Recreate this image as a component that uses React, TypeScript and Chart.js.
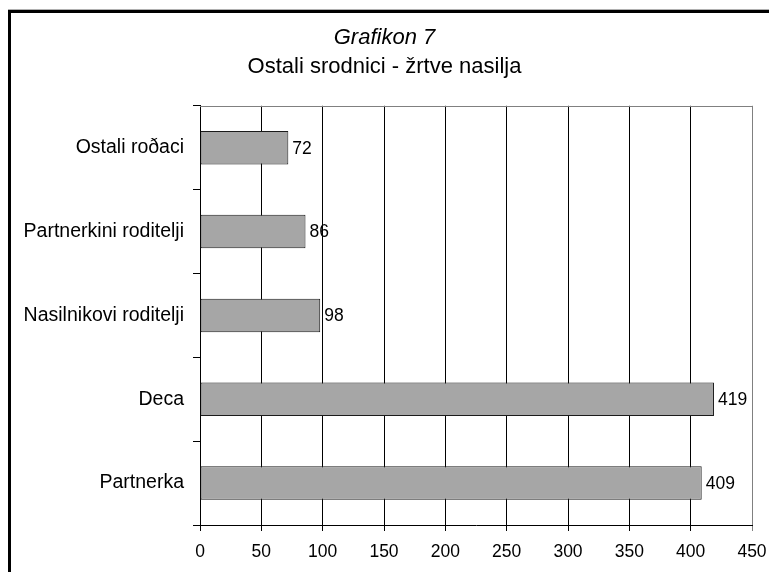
import React, { useEffect, useRef } from "react";
import { Chart, registerables } from "chart.js";

Chart.register(...registerables);

const categories = [
  "Ostali roðaci",
  "Partnerkini roditelji",
  "Nasilnikovi roditelji",
  "Deca",
  "Partnerka",
];
const values = [72, 86, 98, 419, 409];
const titleLine1 = "Grafikon 7";
const titleLine2 = "Ostali srodnici - žrtve nasilja";
const xMin = 0;
const xMax = 450;
const xStep = 50;

const FONT = "'Liberation Sans', Arial, sans-serif";
const PAD_LEFT = 17;

const framePlugin = {
  id: "frame",
  beforeDraw(chart: any) {
    const { ctx, width, height } = chart;
    ctx.save();
    ctx.fillStyle = "#ffffff";
    ctx.fillRect(0, 0, width, height);
    ctx.fillStyle = "#b0b0b0";
    ctx.fillRect(8, 9, width - 8, 1);
    ctx.fillStyle = "#000000";
    ctx.fillRect(8, 10, width - 8, 3);
    ctx.fillRect(8, 10, 3, height - 10);
    ctx.restore();
  },
  afterDraw(chart: any) {
    const { ctx, chartArea } = chart;
    ctx.save();
    ctx.strokeStyle = "#808080";
    ctx.lineWidth = 1;
    ctx.beginPath();
    ctx.moveTo(chartArea.left, Math.round(chartArea.top) + 0.5);
    ctx.lineTo(chartArea.right, Math.round(chartArea.top) + 0.5);
    ctx.stroke();
    ctx.restore();
  },
};

const valueLabelPlugin = {
  id: "valueLabels",
  afterDatasetsDraw(chart: any) {
    const { ctx } = chart;
    const meta = chart.getDatasetMeta(0);
    ctx.save();
    ctx.font = `17.5px ${FONT}`;
    ctx.fillStyle = "#000";
    ctx.textAlign = "left";
    ctx.textBaseline = "middle";
    meta.data.forEach((bar: any, i: number) => {
      const v = chart.data.datasets[0].data[i];
      ctx.fillText(String(v), bar.x + 4, bar.y + 1);
    });
    ctx.restore();
  },
};

export default function App() {
  const ref = useRef<HTMLCanvasElement>(null);
  useEffect(() => {
    if (!ref.current) return;
    const chart = new Chart(ref.current, {
      type: "bar",
      data: {
        labels: categories,
        datasets: [
          {
            data: values,
            backgroundColor: "#a6a6a6",
            borderColor: "#1a1a1a",
            borderWidth: 1,
            borderSkipped: false,
            barPercentage: 0.4,
            categoryPercentage: 1,
          },
        ],
      },
      options: {
        indexAxis: "y",
        responsive: false,
        animation: false,
        layout: { padding: { left: PAD_LEFT, right: 17, top: 0, bottom: 0 } },
        plugins: {
          legend: { display: false },
          tooltip: { enabled: false },
          title: {
            display: true,
            text: titleLine1,
            color: "#000",
            font: { family: FONT, size: 22, style: "italic", weight: "normal", lineHeight: 1.2 },
            padding: { top: 25, bottom: 2 },
          },
          subtitle: {
            display: true,
            text: titleLine2,
            color: "#000",
            font: { family: FONT, size: 22, weight: "normal", lineHeight: 1.2 },
            padding: { top: 0, bottom: 26 },
          },
        },
        scales: {
          x: {
            type: "linear",
            min: xMin,
            max: xMax,
            ticks: {
              stepSize: xStep,
              color: "#000",
              font: { family: FONT, size: 17.5 },
              padding: 11,
              maxRotation: 0,
            },
            grid: {
              color: (c: any) => (c.tick && c.tick.value === xMax ? "#808080" : "#000"),
              lineWidth: 1,
              tickLength: 6,
              drawTicks: true,
            },
            border: { color: "#000", width: 1 },
            afterFit(scale: any) {
              scale.height = 47;
              scale.paddingRight = 0;
              scale.paddingLeft = 0;
            },
          },
          y: {
            type: "category",
            ticks: {
              color: "#000",
              font: { family: FONT, size: 19.5 },
              padding: 9,
            },
            grid: {
              drawOnChartArea: false,
              drawTicks: true,
              tickLength: 7,
              color: "#000",
            },
            border: { color: "#000", width: 1 },
            afterFit(scale: any) {
              scale.width = 200 - PAD_LEFT;
              scale.paddingTop = 0;
              scale.paddingBottom = 0;
            },
          },
        },
      },
      plugins: [framePlugin, valueLabelPlugin],
    });
    return () => chart.destroy();
  }, []);
  return (
    <div style={{ position: "absolute", left: 0, top: 0, width: 769, height: 572 }}>
      <canvas ref={ref} width={769} height={572} />
    </div>
  );
}
